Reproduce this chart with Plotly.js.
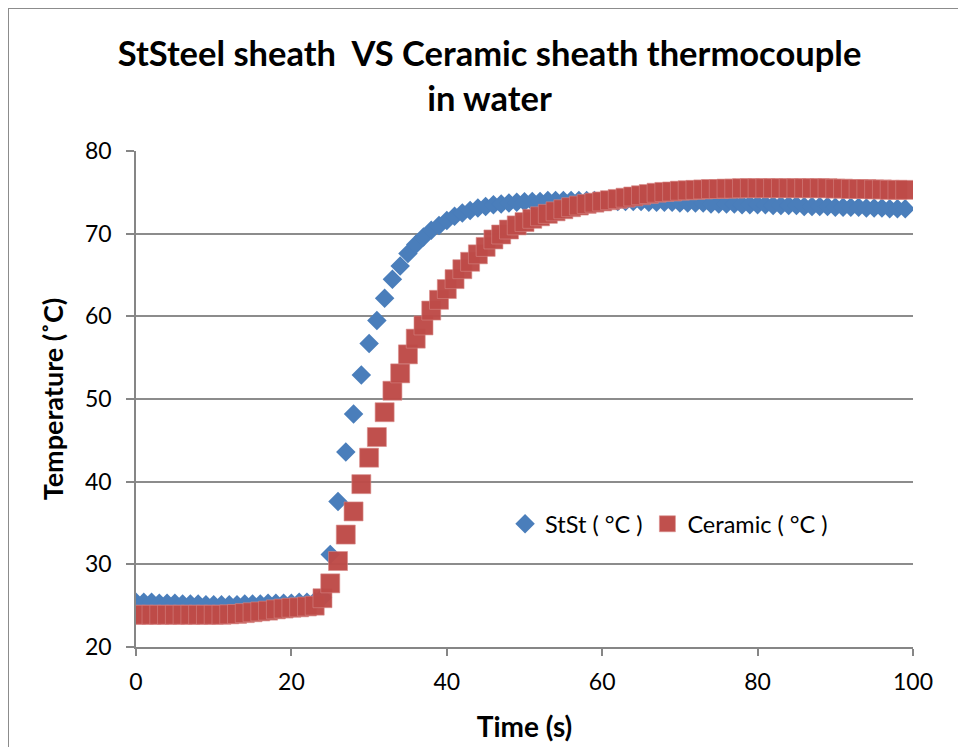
<!DOCTYPE html>
<html>
<head>
<meta charset="utf-8">
<script src="https://cdn.plot.ly/plotly-3.0.1.min.js"></script>
<style>
  body { margin: 0; padding: 0; background: #fff; overflow: hidden; }
  #chart { width: 958px; height: 747px; }
  #frame { position: absolute; left: 8px; top: 8px; width: 1000px; height: 800px;
           border: 1.5px solid #8c8c8c; pointer-events: none; }
</style>
</head>
<body>
<div id="chart"></div>
<div id="frame"></div>
<script>
// Time (s)
const timeS = [];
for (let i = 0; i <= 99; i++) timeS.push(i);

// StSt ( °C )
const stSt = [
  25.4, 25.4, 25.4, 25.3, 25.3, 25.3, 25.2, 25.2, 25.2, 25.1,
  25.1, 25.1, 25.1, 25.1, 25.2, 25.2, 25.2, 25.3, 25.3, 25.3,
  25.3, 25.4, 25.4, 25.5, 26.0, 31.2, 37.6, 43.6, 48.2, 52.9,
  56.7, 59.5, 62.2, 64.5, 66.1, 67.6, 68.7, 69.6, 70.4, 71.0,
  71.6, 72.1, 72.5, 72.8, 73.1, 73.3, 73.5, 73.6, 73.7, 73.8,
  73.85, 73.9, 73.9, 74.0, 74.0, 74.0, 74.0, 74.0, 74.0, 74.0,
  74.0, 74.0, 73.9, 73.9, 73.9, 73.9, 73.8, 73.8, 73.8, 73.8,
  73.7, 73.7, 73.7, 73.7, 73.6, 73.6, 73.6, 73.6, 73.5, 73.5,
  73.5, 73.5, 73.4, 73.4, 73.4, 73.4, 73.3, 73.3, 73.3, 73.3,
  73.2, 73.2, 73.2, 73.2, 73.1, 73.1, 73.1, 73.0, 73.0, 73.0
];

// Ceramic ( °C )
const ceramic = [
  23.9, 23.9, 23.9, 23.9, 23.9, 23.9, 23.9, 23.9, 23.9, 23.9,
  23.9, 23.9, 23.95, 24.0, 24.1, 24.2, 24.3, 24.4, 24.55, 24.65,
  24.75, 24.8, 24.9, 25.0, 25.9, 27.7, 30.4, 33.6, 36.4, 39.7,
  42.9, 45.4, 48.4, 51.0, 53.1, 55.4, 57.3, 58.9, 60.7, 62.0,
  63.3, 64.5, 65.7, 66.6, 67.5, 68.4, 69.3, 69.9, 70.5, 71.0,
  71.4, 71.8, 72.1, 72.4, 72.7, 72.95, 73.2, 73.4, 73.6, 73.75,
  73.9, 74.05, 74.2, 74.35, 74.5, 74.65, 74.8, 74.95, 75.05, 75.1,
  75.2, 75.25, 75.3, 75.35, 75.4, 75.4, 75.45, 75.45, 75.5, 75.5,
  75.5, 75.5, 75.5, 75.5, 75.5, 75.5, 75.5, 75.5, 75.5, 75.5,
  75.45, 75.45, 75.4, 75.4, 75.4, 75.35, 75.35, 75.3, 75.3, 75.3
];

const xTicks = [0, 20, 40, 60, 80, 100];
const yTicks = [20, 30, 40, 50, 60, 70, 80];

const FONT = 'Lato, "Open Sans", "DejaVu Sans", sans-serif';

const traces = [
  {
    x: timeS, y: stSt, name: 'StSt ( °C )', type: 'scatter', mode: 'markers',
    marker: { symbol: 'diamond', size: 15, color: '#4A7EBB' },
    hoverinfo: 'x+y'
  },
  {
    x: timeS, y: ceramic, name: 'Ceramic ( °C )', type: 'scatter', mode: 'markers',
    marker: { symbol: 'square', size: 19, color: '#BE4B48', opacity: 0.97,
              line: { width: 0.6, color: '#D88A88' } },
    hoverinfo: 'x+y'
  }
];

const layout = {
  width: 958, height: 747,
  margin: { l: 136, r: 45, t: 151, b: 100, pad: 0 },
  paper_bgcolor: '#ffffff', plot_bgcolor: '#ffffff',
  font: { family: FONT, size: 23, color: '#000000' },
  title: {
    text: 'StSteel sheath  VS Ceramic sheath thermocouple<br>in water',
    font: { family: FONT, size: 34.5, color: '#000000', weight: 'bold' },
    x: 0.511, xanchor: 'center', y: 0.911, yanchor: 'middle'
  },
  showlegend: true,
  legend: {
    orientation: 'h', x: 0.475, xanchor: 'left', y: 0.248, yanchor: 'middle',
    font: { family: FONT, size: 23.5, color: '#000000' },
    bgcolor: 'rgba(0,0,0,0)', itemclick: false, traceorder: 'normal',
    tracegroupgap: 0
  },
  xaxis: {
    range: [0, 100], tickvals: xTicks, ticktext: xTicks.map(String),
    showgrid: false, zeroline: false,
    showline: true, linecolor: '#868686', linewidth: 1.5,
    ticks: 'outside', ticklen: 7, tickwidth: 1.5, tickcolor: '#868686',
    ticklabelstandoff: 7,
    tickfont: { family: FONT, size: 23, color: '#000000' },
    title: { text: 'Time (s)', font: { family: FONT, size: 28, weight: 'bold', color: '#000' }, standoff: 23 },
    fixedrange: true
  },
  yaxis: {
    range: [20, 80], tickvals: yTicks, ticktext: yTicks.map(String),
    showgrid: true, gridcolor: '#8c8c8c', gridwidth: 1.5, zeroline: false,
    showline: true, linecolor: '#868686', linewidth: 1.5,
    ticks: 'outside', ticklen: 8, tickwidth: 1.5, tickcolor: '#868686',
    ticklabelstandoff: 10,
    tickfont: { family: FONT, size: 23, color: '#000000' },
    title: { text: 'Temperature (˚C)', font: { family: FONT, size: 27, weight: 'bold', color: '#000' }, standoff: 14 },
    fixedrange: true
  }
};

Plotly.newPlot('chart', traces, layout, { displayModeBar: false });
</script>
</body>
</html>
